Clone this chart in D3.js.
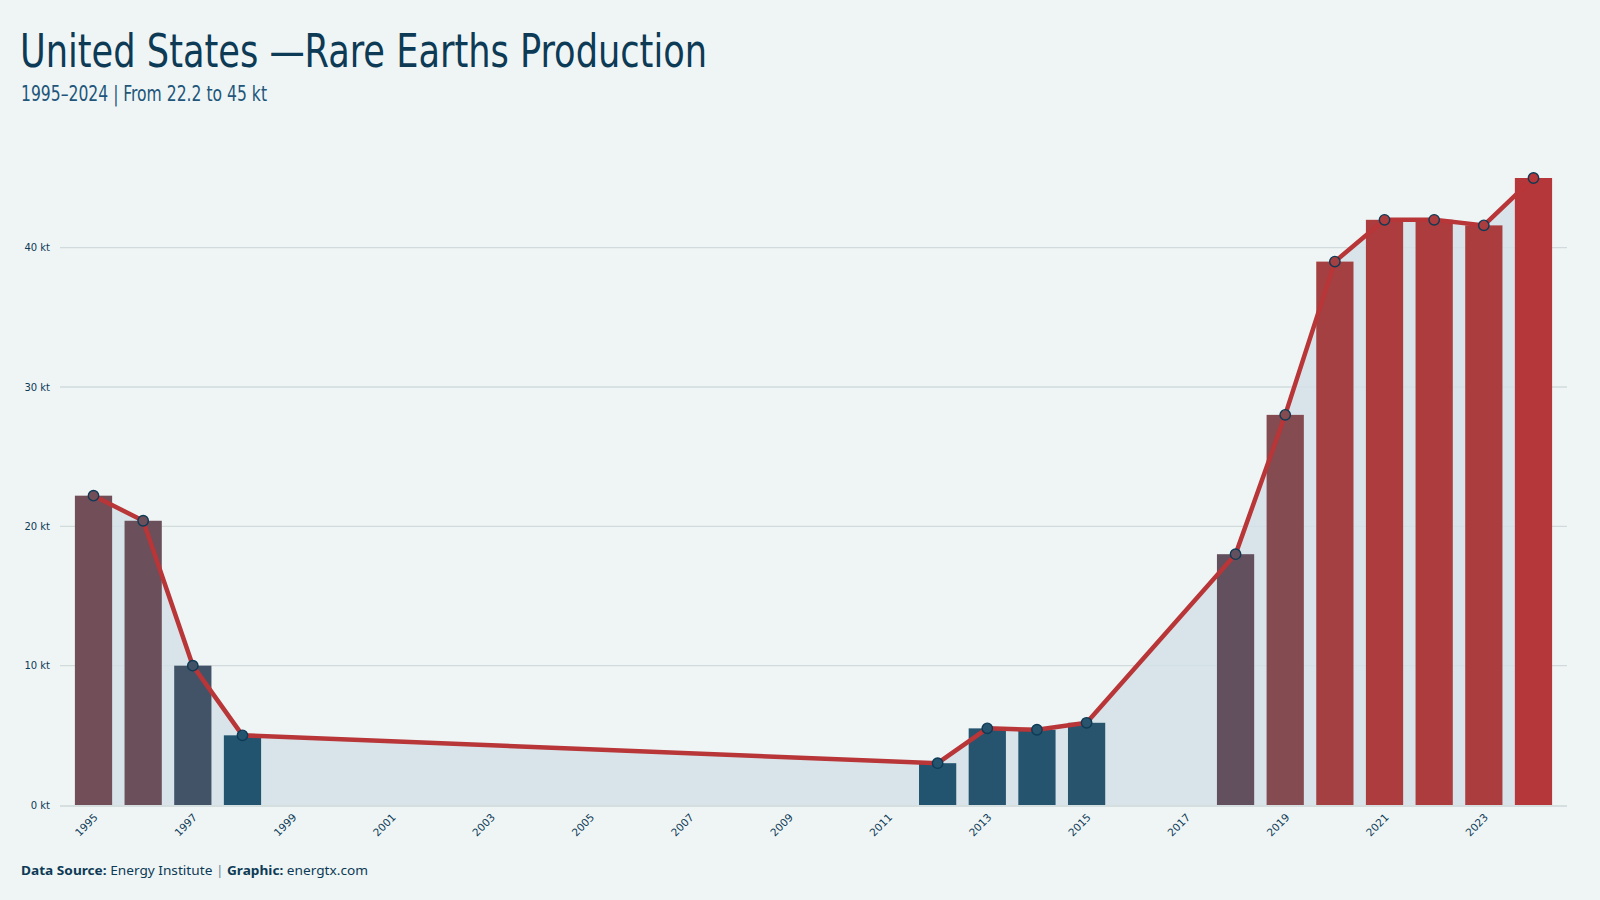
<!DOCTYPE html>
<html>
<head>
<meta charset="utf-8">
<script src="https://cdn.jsdelivr.net/npm/d3@7.9.0/dist/d3.min.js"></script>
<style>
  html, body { margin: 0; padding: 0; background: #eff5f5; }
  svg { display: block; }
</style>
</head>
<body>
<svg id="chart" width="1600" height="900"></svg>
<script>
const years = d3.range(1995, 2025);
const production = [
  22.2, 20.4, 10, 5, null, null, null, null, null, null, null, null, null, null, null, null, null,
  3, 5.5, 5.4, 5.9, null, null, 18, 28, 39, 42, 42, 41.6, 45,
];
const yTicks = [0, 10, 20, 30, 40];
const xTickYears = d3.range(1995, 2025, 2);

const titleText = 'United States —Rare Earths Production';
const subtitleText = '1995–2024 | From 22.2 to 45 kt';

const data = years.map((year, i) => ({ year, value: production[i] }));
const defined = data.filter((d) => d.value !== null);

const svg = d3.select('#chart');
const ink = '#0d3a55';

svg.append('rect').attr('width', 1600).attr('height', 900).attr('fill', '#eff5f5');

const x = d3.scaleBand(years, [60, 1567]).paddingInner(0.25).paddingOuter(0.3);
const y = d3.scaleLinear([0, 45], [805, 178]);
// low values all sit at the blue end
const color = d3
  .scaleLinear()
  .domain([5, 45])
  .range(['#22546f', '#b5373a'])
  .interpolate(d3.interpolateLab)
  .clamp(true);

const cx = (d) => x(d.year) + x.bandwidth() / 2;

// titles
svg.append('text')
  .attr('x', 20).attr('y', 67)
  .attr('font-family', '"Liberation Sans Narrow", "DejaVu Sans Condensed", sans-serif')
  .attr('font-size', 46)
  .attr('fill', ink)
  .attr('textLength', 687)
  .attr('lengthAdjust', 'spacingAndGlyphs')
  .text(titleText);

svg.append('text')
  .attr('x', 21).attr('y', 101)
  .attr('font-family', '"Liberation Sans Narrow", "DejaVu Sans Condensed", sans-serif')
  .attr('font-size', 21)
  .attr('fill', '#22557a')
  .attr('textLength', 246)
  .attr('lengthAdjust', 'spacingAndGlyphs')
  .text(subtitleText);

// grid
svg.append('g')
  .selectAll('line')
  .data(yTicks.slice(1))
  .join('line')
  .attr('x1', 60).attr('x2', 1567)
  .attr('y1', (d) => y(d)).attr('y2', (d) => y(d))
  .attr('stroke', '#d2dbdb')
  .attr('stroke-width', 1.3);

svg.append('line')
  .attr('x1', 60).attr('x2', 1567)
  .attr('y1', y(0) + 1).attr('y2', y(0) + 1)
  .attr('stroke', '#d6dfdf')
  .attr('stroke-width', 2);

// y labels
svg.append('g')
  .selectAll('text')
  .data(yTicks)
  .join('text')
  .attr('x', 50)
  .attr('y', (d) => y(d))
  .attr('dy', '0.35em')
  .attr('text-anchor', 'end')
  .attr('font-family', '"DejaVu Sans", sans-serif')
  .attr('font-size', 10)
  .attr('fill', ink)
  .text((d) => `${d} kt`);

// x labels
svg.append('g')
  .selectAll('text')
  .data(xTickYears)
  .join('text')
  .attr('transform', (d) => `translate(${x(d) + x.bandwidth() / 2 + 5},${818}) rotate(-45)`)
  .attr('text-anchor', 'end')
  .attr('font-family', '"DejaVu Sans", sans-serif')
  .attr('font-size', 10.5)
  .attr('fill', ink)
  .text((d) => d);

// area under the line
const area = d3.area()
  .x(cx)
  .y0(y(0))
  .y1((d) => y(d.value));

svg.append('path')
  .datum(defined)
  .attr('d', area)
  .attr('fill', '#d3e1e6')
  .attr('fill-opacity', 0.85);

// bars
svg.append('g')
  .selectAll('rect')
  .data(defined)
  .join('rect')
  .attr('x', (d) => x(d.year))
  .attr('y', (d) => y(d.value))
  .attr('width', x.bandwidth())
  .attr('height', (d) => y(0) - y(d.value))
  .attr('fill', (d) => color(d.value));

// line
const line = d3.line()
  .x(cx)
  .y((d) => y(d.value));

svg.append('path')
  .datum(defined)
  .attr('d', line)
  .attr('fill', 'none')
  .attr('stroke', '#b83538')
  .attr('stroke-width', 4.5)
  .attr('stroke-linejoin', 'round');

// dots
svg.append('g')
  .selectAll('circle')
  .data(defined)
  .join('circle')
  .attr('cx', cx)
  .attr('cy', (d) => y(d.value))
  .attr('r', 5.2)
  .attr('fill', (d) => color(d.value))
  .attr('stroke', ink)
  .attr('stroke-width', 1.4);

// footer
const footer = svg.append('text')
  .attr('x', 21).attr('y', 875)
  .attr('font-family', '"Noto Sans", "DejaVu Sans", sans-serif')
  .attr('font-size', 13)
  .attr('fill', ink)
  .attr('textLength', 347)
  .attr('lengthAdjust', 'spacingAndGlyphs');
footer.append('tspan').attr('font-weight', 'bold').text('Data Source: ');
footer.append('tspan').text('Energy Institute ');
footer.append('tspan').attr('fill', '#6f8a9a').text('| ');
footer.append('tspan').attr('font-weight', 'bold').text('Graphic: ');
footer.append('tspan').text('energtx.com');
</script>
</body>
</html>
